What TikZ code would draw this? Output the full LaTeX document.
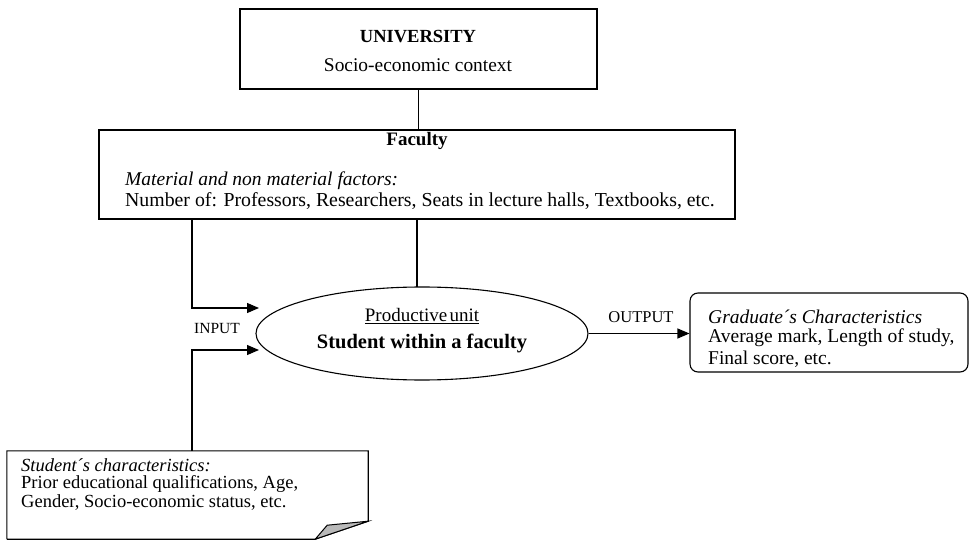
\documentclass[tikz,border=0pt]{standalone}
\usepackage{fontspec}
\setmainfont{Liberation Serif}
\usetikzlibrary{arrows.meta,shapes.geometric}
\newcommand\myfs[1]{\fontsize{#1}{#1}\selectfont}
\begin{document}
\begin{tikzpicture}[x=1pt,y=-1pt,
  box/.style={draw,line width=1.1pt,inner sep=0pt},
  conn/.style={line width=1.1pt},
  arr/.style={conn,-{Triangle[length=12pt,width=10pt]}},
  txt/.style={inner sep=0pt,text=black},
  lft/.style={txt,anchor=west},
]
\useasboundingbox (0,0) rectangle (969,540);
% boxes
\node[box,minimum width=357pt,minimum height=80pt] (univ) at (418.5,49) {};
\node[box,minimum width=636pt,minimum height=89pt] (fac) at (417,174.5) {};
\node[box,ellipse,minimum width=332pt,minimum height=93pt] (ell) at (422,333.5) {};
\node[box,rounded corners=8pt,minimum width=278pt,minimum height=79pt] (grad) at (829,332.5) {};
\node[inner sep=0pt,minimum width=361pt,minimum height=88pt] (stu) at (187.5,495) {};
\draw[line width=1.1pt] (stu.south west) -- (stu.north west) -- (stu.north east)
  -- ([yshift=18pt]stu.south east) -- ([xshift=-53pt]stu.south east) -- (stu.south west);
\draw[line width=1pt,fill=gray!55] ([yshift=18pt]stu.south east) -- ([xshift=-41pt,yshift=14pt]stu.south east)
  -- ([xshift=-53pt]stu.south east) -- cycle;
% texts
\node[txt,font=\myfs{18.5}\bfseries] (tuni) at (418,37) {UNIVERSITY};
\node[txt,font=\myfs{19.4}] (tsoc) at (418,65) {Socio-economic context};
\node[txt,font=\myfs{19}\bfseries] (tfac) at (417,141) {Faculty};
\node[lft,font=\myfs{19.5}\itshape] (tmat) at (125,181) {Material and non material factors:};
\node[lft,font=\myfs{19.8}] (tnum) at (125,201) {Number of: Professors, Researchers, Seats in lecture halls, Textbooks, etc.};
\node[txt,font=\myfs{19}] (tprod) at (422,316) {\underline{Productive\hspace{0.12em}unit}};
\node[txt,font=\myfs{20.5}\bfseries] (tstud) at (422,343) {Student within a faculty};
\node[txt,font=\myfs{15.5}] (tin) at (217,328) {INPUT};
\node[txt,font=\myfs{16.5}] (tout) at (641,317) {OUTPUT};
\node[lft,font=\myfs{19.5}\itshape] (tg1) at (708,317) {Graduate´s Characteristics};
\node[lft,font=\myfs{19.5}] (tg2) at (708,338) {Average mark, Length of study,};
\node[lft,font=\myfs{19.5}] (tg3) at (708,359) {Final score, etc.};
\node[lft,font=\myfs{18.5}\itshape] (ts1) at (21,465) {Student´s characteristics:};
\node[lft,font=\myfs{18.5}] (ts2) at (21,484) {Prior educational qualifications, Age,};
\node[lft,font=\myfs{18.5}] (ts3) at (21,503) {Gender, Socio-economic status, etc.};
% connectors
\coordinate (mid) at (417,0);
\coordinate (la) at (192,0);
\coordinate (in1) at (259,308);
\coordinate (in2) at (259,350);
\draw[conn] (univ.south) -- (univ.south |- fac.north);
\draw[conn] (fac.south -| mid) -- ([yshift=-0.5pt]mid |- ell.north);
\draw[arr] (fac.south -| la) |- (in1);
\draw[arr] (stu.north -| la) |- (in2);
\draw[arr] (ell.east) -- (ell.east -| grad.west);
\end{tikzpicture}
\end{document}
